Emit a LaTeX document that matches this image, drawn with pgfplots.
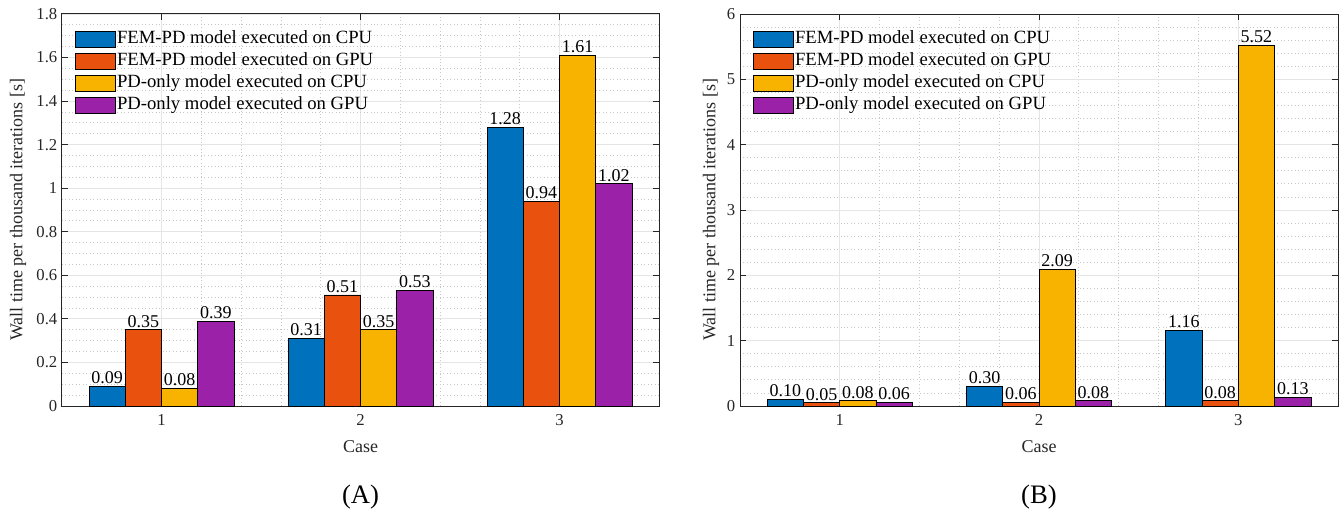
\documentclass[border=0pt]{standalone}
\usepackage{fontspec}
\setmainfont{Liberation Serif}
\usepackage{pgfplots}
\pgfplotsset{compat=1.18}
\definecolor{cA}{HTML}{0072BD}
\definecolor{cB}{HTML}{E8510E}
\definecolor{cC}{HTML}{F8B300}
\definecolor{cD}{HTML}{9C21A9}
\definecolor{axc}{HTML}{262626}
\pgfplotsset{
  mybar/.style={
    scale only axis, height=294pt,
    ybar=0pt, bar width=0.182,
    xmin=0.5, xmax=3.5, ymin=0,
    xtick={1,2,3}, minor x tick num=4,
    grid=both,
    major grid style={line width=0.6pt, color=black!10},
    minor grid style={line width=0.6pt, color=black!22, dotted},
    axis line style={line width=0.75pt, color=axc},
    tick style={line width=0.75pt, color=axc},
    major tick length=4.5pt, minor tick length=0pt,
    tick align=inside,
    ticklabel style={font=\fontsize{12.5pt}{14pt}\selectfont, color=axc},
    xticklabel style={yshift=-3pt},
    /pgf/number format/assume math mode=true,
    xlabel={Case}, ylabel={Wall time per thousand iterations [s]},
    every axis x label/.style={at={(rel axis cs:0.5,0)}, anchor=center, yshift=-30.75pt,
      font=\fontsize{13.5pt}{15pt}\selectfont, color=axc},
    nodes near coords={\pgfmathprintnumber[fixed,fixed zerofill,precision=2,assume math mode=true]{\pgfplotspointmeta}},
    nodes near coords style={font=\fontsize{13.5pt}{15pt}\selectfont, color=black, inner sep=1.5pt},
    every axis plot/.append style={draw=black, line width=0.6pt},
    clip=false,
    legend image code/.code={\draw[#1] (0pt,-5.5pt) rectangle (30pt,6.5pt);},
    legend cell align=left,
    legend style={at={(0,1)}, anchor=north west, xshift=9.5pt, yshift=-11.25pt,
      draw=none, fill=none, inner sep=0pt, row sep=1pt,
      font=\fontsize{14pt}{16pt}\selectfont,
      nodes={text height=10pt, text depth=3.5pt, inner sep=1pt}},
  }
}
\begin{document}
\begin{tikzpicture}
\useasboundingbox (0,0) rectangle (1007.25pt,386.25pt);
\begin{axis}[mybar, at={(46.5pt,81.75pt)}, anchor=south west, width=447.75pt,
  ymax=1.8, ytick={0,0.2,0.4,0.6,0.8,1,1.2,1.4,1.6,1.8}, minor y tick num=3,
  every axis y label/.style={at={(rel axis cs:0,0.5)}, anchor=center, xshift=-33pt, rotate=90,
    font=\fontsize{13.5pt}{15pt}\selectfont, color=axc}]
\addplot[fill=cA] coordinates {(1,0.09) (2,0.31) (3,1.28)};
\addplot[fill=cB] coordinates {(1,0.35) (2,0.51) (3,0.94)};
\addplot[fill=cC] coordinates {(1,0.08) (2,0.35) (3,1.61)};
\addplot[fill=cD] coordinates {(1,0.39) (2,0.53) (3,1.02)};
\legend{FEM-PD model executed on CPU, FEM-PD model executed on GPU, PD-only model executed on CPU, PD-only model executed on GPU}
\end{axis}
\begin{axis}[mybar, at={(555pt,81.75pt)}, anchor=south west, width=448.5pt,
  ymax=6, ytick={0,1,2,3,4,5,6}, minor y tick num=4,
  every axis y label/.style={at={(rel axis cs:0,0.5)}, anchor=center, xshift=-21.75pt, rotate=90,
    font=\fontsize{13.5pt}{15pt}\selectfont, color=axc}]
\addplot[fill=cA] coordinates {(1,0.10) (2,0.30) (3,1.16)};
\addplot[fill=cB] coordinates {(1,0.05) (2,0.06) (3,0.08)};
\addplot[fill=cC] coordinates {(1,0.08) (2,2.09) (3,5.52)};
\addplot[fill=cD] coordinates {(1,0.06) (2,0.08) (3,0.13)};
\legend{FEM-PD model executed on CPU, FEM-PD model executed on GPU, PD-only model executed on CPU, PD-only model executed on GPU}
\end{axis}
\node[font=\fontsize{20pt}{22pt}\selectfont] at (270.4pt,13.5pt) {(A)};
\node[font=\fontsize{20pt}{22pt}\selectfont] at (779.25pt,13.5pt) {(B)};
\end{tikzpicture}
\end{document}
